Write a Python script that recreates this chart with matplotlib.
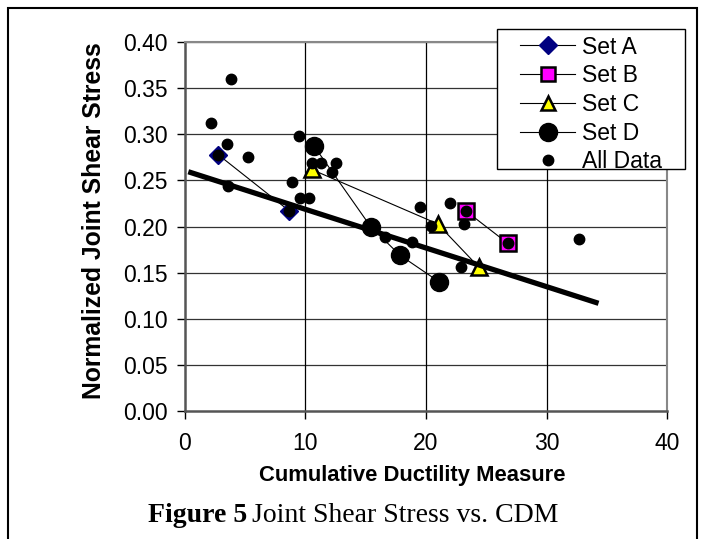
import matplotlib
matplotlib.use("Agg")
import matplotlib.pyplot as plt
from matplotlib.lines import Line2D

# Series data
set_a_x = [2.78, 8.67]
set_a_y = [0.278, 0.217]

set_b_x = [23.3, 26.76]
set_b_y = [0.217, 0.182]

set_c_x = [10.52, 20.96, 24.38]
set_c_y = [0.262, 0.203, 0.156]

set_d_x = [10.74, 15.41, 17.84, 21.1]
set_d_y = [0.287, 0.200, 0.169, 0.140]

all_x = [2.18, 3.84, 3.48, 2.78, 5.27, 3.61, 9.5, 8.86, 9.55, 10.3, 8.67,
         10.74, 10.57, 11.27, 12.5, 12.18, 15.41, 16.6, 18.86, 17.84, 21.1,
         19.5, 21.98, 20.38, 23.14, 22.9, 23.3, 26.76, 32.7]
all_y = [0.312, 0.360, 0.290, 0.278, 0.276, 0.244, 0.298, 0.248, 0.231, 0.231, 0.217,
         0.287, 0.269, 0.269, 0.269, 0.259, 0.200, 0.189, 0.183, 0.169, 0.140,
         0.221, 0.226, 0.201, 0.2025, 0.1565, 0.217, 0.182, 0.187]

# Linear trend line end points
trend_x = [0.3, 34.3]
trend_y = [0.2595, 0.1168]

x_ticks = [0, 10, 20, 30, 40]
y_ticks = [0.00, 0.05, 0.10, 0.15, 0.20, 0.25, 0.30, 0.35, 0.40]
labels = ['Set A', 'Set B', 'Set C', 'Set D', 'All Data']

plt.rcParams['font.family'] = ['Liberation Sans', 'DejaVu Sans']

W, H = 701, 539


def fx(px):
    return px / W


def fy(py):
    return 1 - py / H


fig = plt.figure(figsize=(W / 100, H / 100), dpi=100)
ax = fig.add_axes([fx(184.7), fy(411), (667.3 - 184.7) / W, (411 - 42.2) / H])

# grid
for yv in y_ticks[1:]:
    ax.axhline(yv, color='#333333', lw=0.9, zorder=1)
for xv in x_ticks[1:-1]:
    ax.axvline(xv, color='black', lw=0.9, zorder=1)

# connecting lines + set markers
for sx, sy in [(set_a_x, set_a_y), (set_b_x, set_b_y), (set_c_x, set_c_y), (set_d_x, set_d_y)]:
    ax.plot(sx, sy, color='black', lw=0.8, zorder=2)

ax.plot(set_a_x, set_a_y, ls='none', marker='D', ms=9, mfc='#000080', mec='#000080', zorder=3)
ax.plot(set_b_x, set_b_y, ls='none', marker='s', ms=12, mfc='#FF00FF', mec='black', mew=1.8, zorder=3)
ax.plot(set_c_x, set_c_y, ls='none', marker='^', ms=12, mfc='#FFFF00', mec='black', mew=1.8, zorder=3)
ax.plot(set_d_x, set_d_y, ls='none', marker='o', ms=13, mfc='black', mec='black', zorder=3)

ax.plot(all_x, all_y, ls='none', marker='o', ms=7.5, mfc='black', mec='black', zorder=4)

ax.plot(trend_x, trend_y, color='black', lw=3.8, solid_capstyle='butt', zorder=5)

ax.set_xlim(0, 40)
ax.set_ylim(0, 0.40)
ax.set_xticks(x_ticks)
ax.set_yticks(y_ticks)
ax.set_yticklabels([f"{v:.2f}" for v in y_ticks])
ax.tick_params(axis='both', direction='out', length=6, width=1, color='black',
               labelsize=16.5)
ax.tick_params(axis='y', pad=6)
ax.tick_params(axis='x', pad=9)

for side in ['top', 'right']:
    ax.spines[side].set_color('#888888')
    ax.spines[side].set_linewidth(1.5)
for side in ['left', 'bottom']:
    ax.spines[side].set_color('#555555')
    ax.spines[side].set_linewidth(1.8)

fig.text(fx(412), fy(475), 'Cumulative Ductility Measure', fontsize=15.8,
         fontweight='bold', ha='center', va='center')
fig.text(fx(94), fy(221), 'Normalized Joint Shear Stress', fontsize=17.8,
         fontweight='bold', ha='center', va='center', rotation=90)

# legend: frame drawn as a rectangle, entries placed inside it
fig.patches.append(plt.Rectangle((fx(497), fy(169)), (685 - 497) / W, (169 - 29.3) / H,
                                 transform=fig.transFigure, facecolor='white',
                                 edgecolor='black', lw=1.0, zorder=9))
handles = [
    Line2D([], [], color='black', lw=0.8, marker='D', ms=9, mfc='#000080', mec='#000080'),
    Line2D([], [], color='black', lw=0.8, marker='s', ms=10, mfc='#FF00FF', mec='black', mew=1.8),
    Line2D([], [], color='black', lw=0.8, marker='^', ms=10.5, mfc='#FFFF00', mec='black', mew=1.8),
    Line2D([], [], color='black', lw=0.8, marker='o', ms=13, mfc='black', mec='black'),
    Line2D([], [], ls='none', marker='o', ms=7.5, mfc='black', mec='black'),
]
leg = fig.legend(handles, labels, loc='upper left',
                 bbox_to_anchor=(fx(520), fy(35.5)), bbox_transform=fig.transFigure,
                 borderaxespad=0, fontsize=16.5, frameon=False,
                 handlelength=2.4, handletextpad=0.3, labelspacing=0.25,
                 borderpad=0)
leg.set_zorder(10)

# outer frame
fig.patches.append(plt.Rectangle((fx(8), -0.05), (697 - 8) / W, 1 - 8 / H + 0.05,
                                 transform=fig.transFigure, fill=False,
                                 edgecolor='black', lw=1.5))

cap_bold = fig.text(fx(148), fy(516), 'Figure 5', fontsize=20, fontweight='bold',
                    family='Liberation Serif', ha='left', va='center')
fig.canvas.draw()
bb = cap_bold.get_window_extent()
fig.text(fx(bb.x1 + 5), fy(516), 'Joint Shear Stress vs. CDM', fontsize=20,
         family='Liberation Serif', ha='left', va='center')

fig.savefig('out.png', dpi=100)
